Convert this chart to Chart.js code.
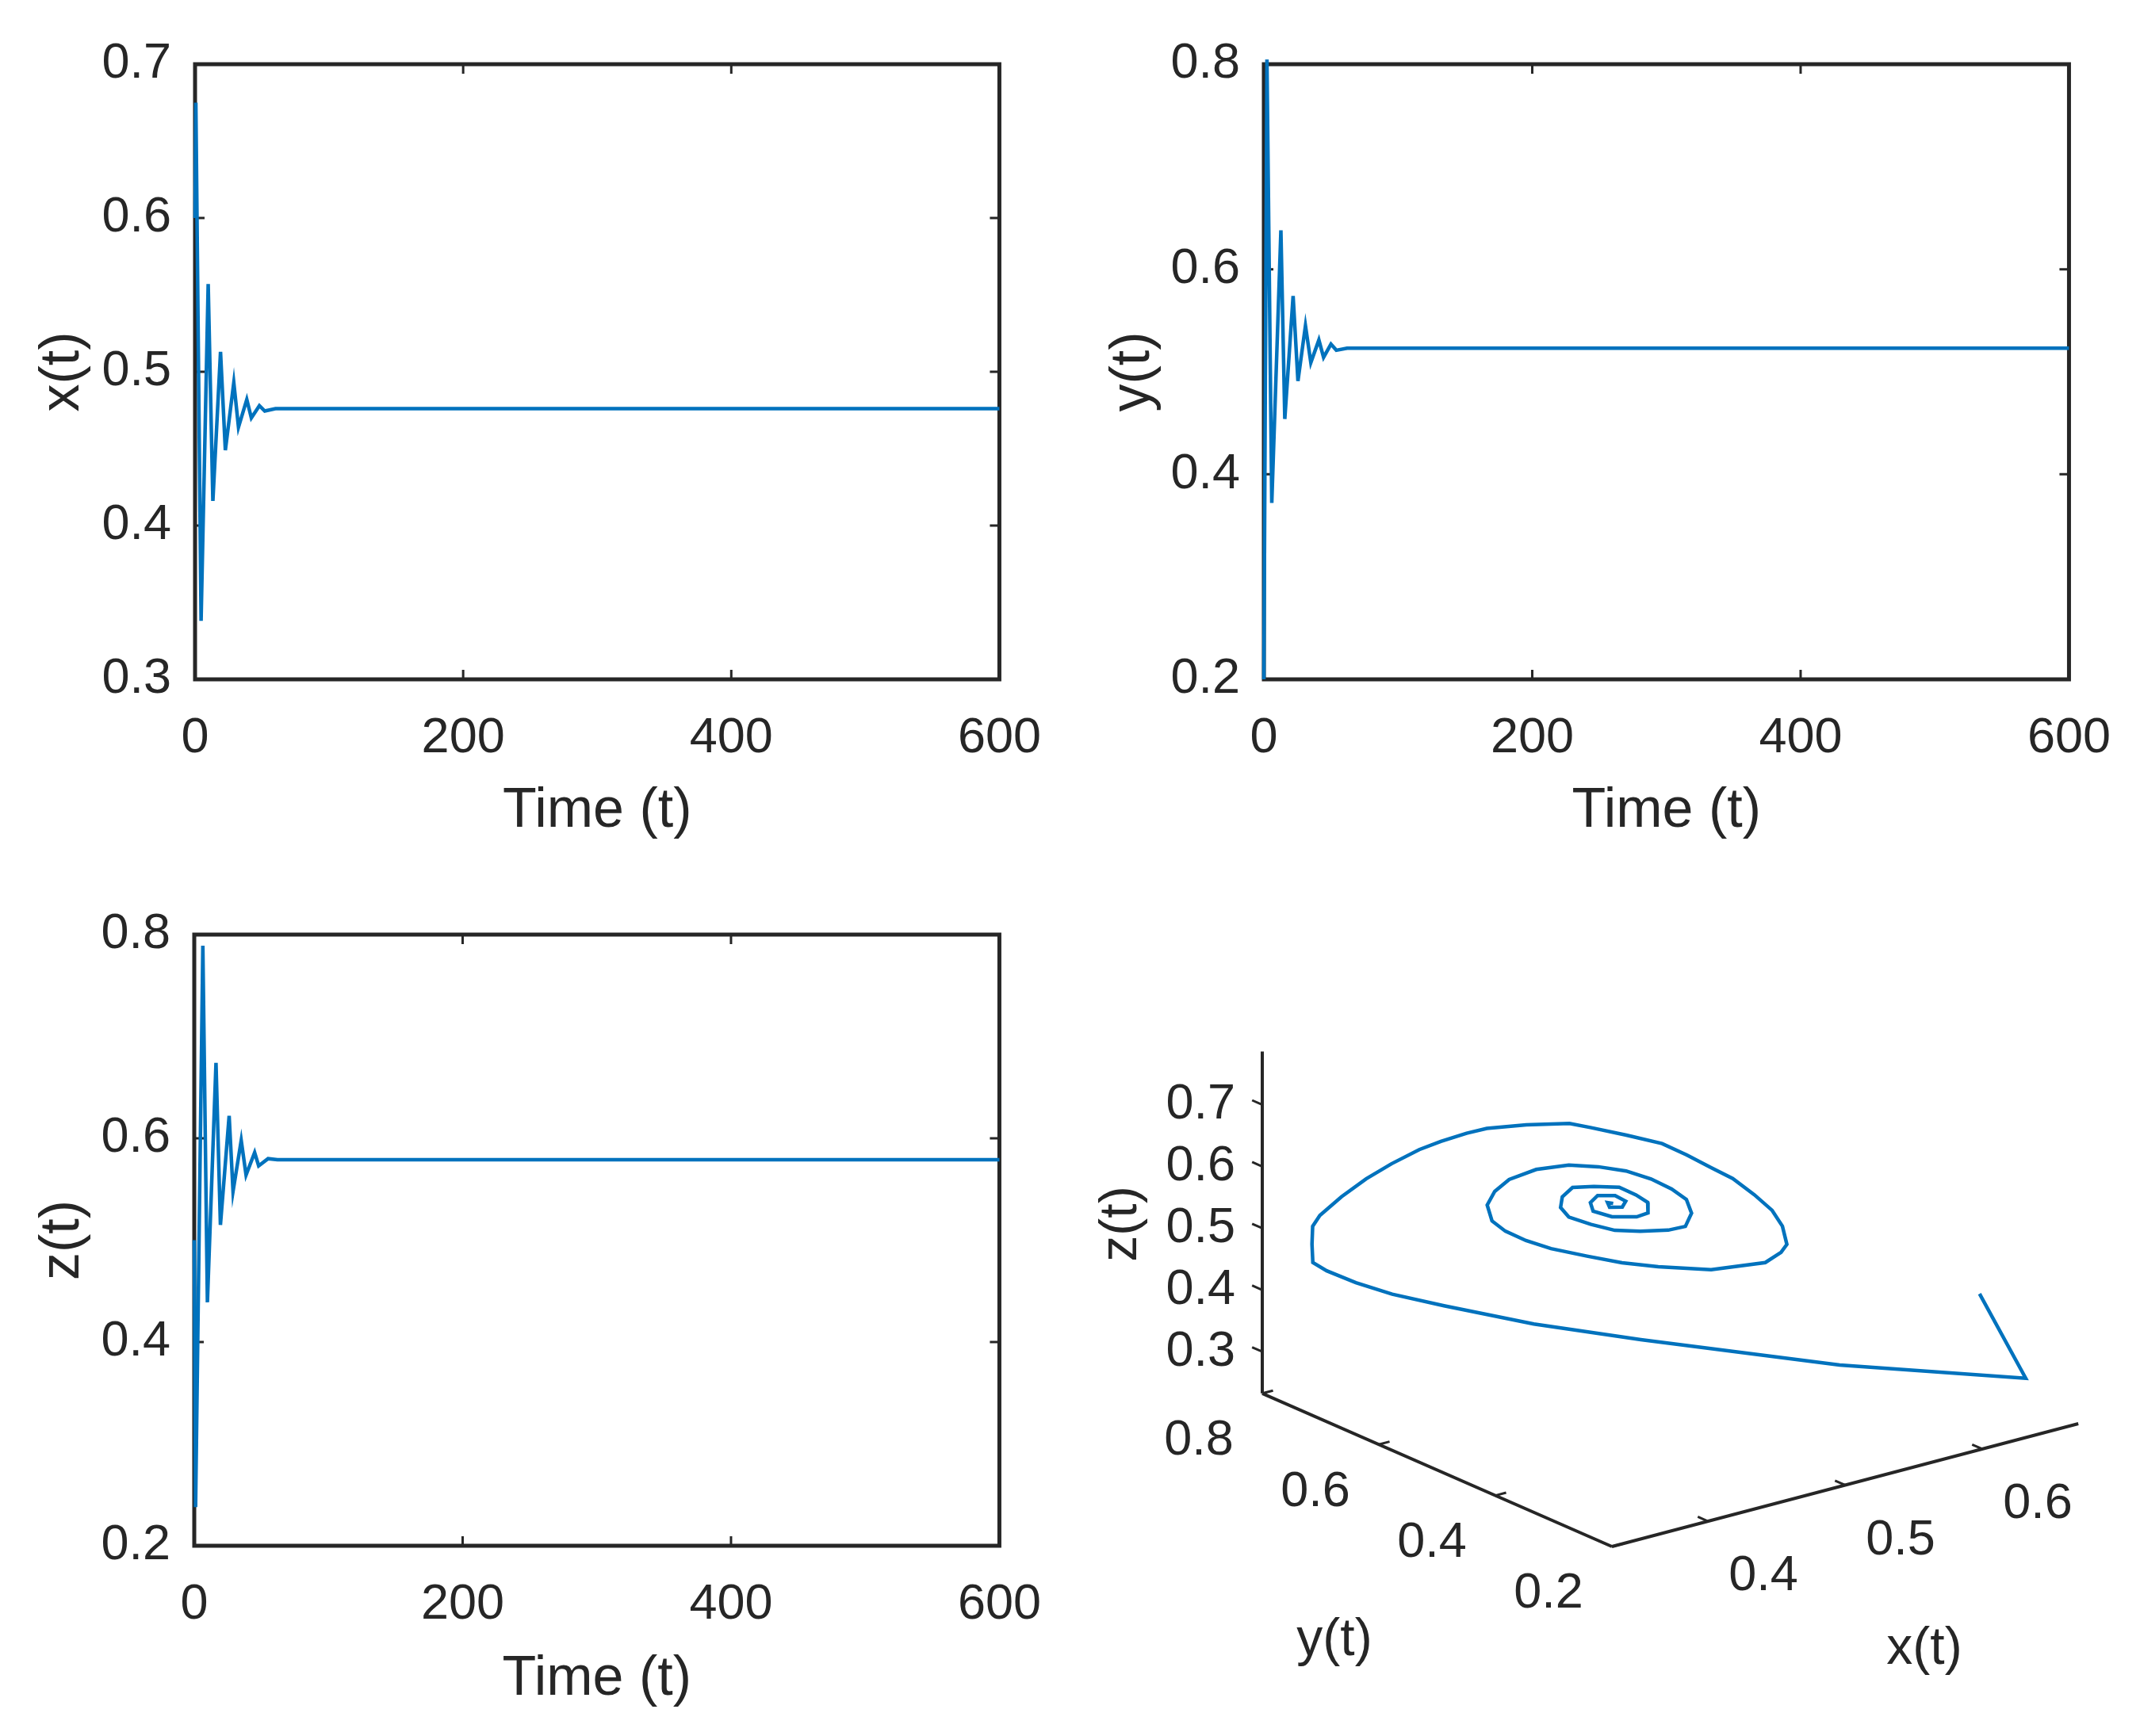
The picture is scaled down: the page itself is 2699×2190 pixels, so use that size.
<!DOCTYPE html>
<html lang="en">
<head>
<meta charset="UTF-8">
<title>Time series and phase portrait</title>
<script src="https://cdn.jsdelivr.net/npm/chart.js"></script>
<style>
  html, body { margin: 0; padding: 0; background: #fff; }
  body { width: 2699px; height: 2190px; position: relative; overflow: hidden; }
  canvas { position: absolute; }
</style>
</head>
<body>
<canvas id="xChart" width="1350" height="1095" style="left:0;top:0"></canvas>
<canvas id="yChart" width="1349" height="1095" style="left:1350px;top:0"></canvas>
<canvas id="zChart" width="1350" height="1095" style="left:0;top:1095px"></canvas>
<canvas id="phaseChart" width="1349" height="1095" style="left:1350px;top:1095px"></canvas>
<script>
// ---- data ----
const tX = [0, 0.6, 4.5, 9.8, 13.3, 19.0, 22.6, 28.9, 32.4, 38.6, 42.0, 48.0, 52.0, 60, 600];
const xVals = [0.600, 0.675, 0.338, 0.557, 0.416, 0.513, 0.449, 0.493, 0.464, 0.482, 0.470, 0.478, 0.4745, 0.476, 0.476];

const tY = [0, 2.3, 5.9, 12.7, 15.6, 21.8, 25.4, 31.0, 35.0, 41.0, 44.5, 50.0, 54.0, 62, 600];
const yVals = [0.200, 0.805, 0.372, 0.638, 0.454, 0.574, 0.491, 0.545, 0.509, 0.531, 0.514, 0.527, 0.521, 0.523, 0.523];

const tZ = [0, 1.0, 6.4, 9.8, 16.2, 19.5, 26.0, 28.9, 35.0, 38.6, 45.0, 48.0, 55, 62, 600];
const zVals = [0.500, 0.238, 0.789, 0.439, 0.674, 0.515, 0.622, 0.548, 0.598, 0.564, 0.586, 0.573, 0.580, 0.579, 0.579];

// phase portrait (x, y, z) along the trajectory
const phaseX = [0.598, 0.675, 0.581, 0.547, 0.504, 0.460, 0.420, 0.395, 0.377, 0.360, 0.352, 0.345, 0.337, 0.338,
  0.341, 0.342, 0.3435, 0.351, 0.354, 0.360, 0.362, 0.378, 0.401, 0.412, 0.434, 0.460, 0.478, 0.500, 0.520, 0.540,
  0.553, 0.5605, 0.568, 0.568, 0.565, 0.5425, 0.521, 0.503, 0.486, 0.464, 0.450, 0.435, 0.421, 0.409, 0.406, 0.408,
  0.415, 0.426, 0.439, 0.455, 0.469, 0.484, 0.499, 0.507, 0.511, 0.507, 0.495, 0.485, 0.472, 0.460, 0.454, 0.451,
  0.450, 0.457, 0.467, 0.475, 0.4835, 0.488, 0.484, 0.4745, 0.465, 0.463, 0.464, 0.4725, 0.476, 0.4735, 0.4685, 0.467, 0.469];
const phaseY = [0.200, 0.302, 0.400, 0.480, 0.560, 0.640, 0.700, 0.730, 0.750, 0.760, 0.765, 0.750, 0.730, 0.720,
  0.690, 0.650, 0.610, 0.580, 0.550, 0.520, 0.490, 0.460, 0.440, 0.430, 0.420, 0.420, 0.420, 0.430, 0.440, 0.450,
  0.450, 0.450, 0.460, 0.470, 0.490, 0.530, 0.570, 0.590, 0.610, 0.620, 0.630, 0.630, 0.620, 0.600, 0.580, 0.560,
  0.530, 0.500, 0.480, 0.470, 0.460, 0.460, 0.470, 0.480, 0.500, 0.520, 0.540, 0.560, 0.570, 0.580, 0.580, 0.570,
  0.550, 0.530, 0.510, 0.500, 0.500, 0.510, 0.520, 0.540, 0.550, 0.550, 0.540, 0.530, 0.520, 0.520, 0.530, 0.530, 0.525];
const phaseZ = [0.485, 0.261, 0.297, 0.303, 0.317, 0.335, 0.363, 0.384, 0.405, 0.430, 0.446, 0.486, 0.528, 0.549,
  0.590, 0.635, 0.675, 0.706, 0.730, 0.752, 0.771, 0.780, 0.777, 0.768, 0.747, 0.718, 0.689, 0.6515, 0.618, 0.576,
  0.543, 0.513, 0.475, 0.458, 0.435, 0.420, 0.421, 0.4295, 0.442, 0.463, 0.480, 0.504, 0.533, 0.574, 0.606, 0.6325,
  0.657, 0.670, 0.668, 0.656, 0.639, 0.614, 0.584, 0.553, 0.521, 0.509, 0.506, 0.505, 0.518, 0.533, 0.552, 0.575,
  0.599, 0.605, 0.606, 0.593, 0.576, 0.552, 0.544, 0.5415, 0.552, 0.567, 0.582, 0.581, 0.574, 0.566, 0.5645, 0.573, 0.5725];

// tick labels
const timeTicks = [0, 200, 400, 600];
const xTicks = [0.3, 0.4, 0.5, 0.6, 0.7];
const yTicks = [0.2, 0.4, 0.6, 0.8];
const zTicks = [0.2, 0.4, 0.6, 0.8];
const phaseXTicks = [0.4, 0.5, 0.6];
const phaseYTicks = [0.2, 0.4, 0.6, 0.8];
const phaseZTicks = [0.3, 0.4, 0.5, 0.6, 0.7];

// ---- styling ----
const LINE = '#0072BD';
const AXIS = '#262626';
Chart.defaults.font.family = "'Liberation Sans', Arial, Helvetica, sans-serif";
Chart.defaults.color = AXIS;

// box with inward ticks on all four sides, drawn under the data
const boxPlugin = {
  id: 'box',
  beforeDatasetsDraw(chart) {
    const {ctx, chartArea: a, scales} = chart;
    const len = 12;
    ctx.save();
    ctx.strokeStyle = AXIS;
    ctx.lineWidth = 3;
    ctx.beginPath();
    scales.x.ticks.forEach(t => {
      const px = scales.x.getPixelForValue(t.value);
      ctx.moveTo(px, a.bottom); ctx.lineTo(px, a.bottom - len);
      ctx.moveTo(px, a.top); ctx.lineTo(px, a.top + len);
    });
    scales.y.ticks.forEach(t => {
      const py = scales.y.getPixelForValue(t.value);
      ctx.moveTo(a.left, py); ctx.lineTo(a.left + len, py);
      ctx.moveTo(a.right, py); ctx.lineTo(a.right - len, py);
    });
    ctx.stroke();
    ctx.lineWidth = 5;
    ctx.strokeRect(a.left, a.top, a.right - a.left, a.bottom - a.top);
    ctx.restore();
  }
};

function timeChart(id, times, values, yMin, yMax, ticks, yTitle, area) {
  return new Chart(document.getElementById(id), {
    type: 'scatter',
    data: {
      datasets: [{
        data: times.map((t, i) => ({x: t, y: values[i]})),
        showLine: true,
        borderColor: LINE,
        borderWidth: 4.5,
        pointRadius: 0,
        tension: 0,
        clip: 6,
      }],
    },
    options: {
      responsive: false,
      animation: false,
      devicePixelRatio: 1,
      layout: { padding: { left: 0, top: area.top, right: area.right, bottom: 0 } },
      plugins: { legend: { display: false }, tooltip: { enabled: false } },
      scales: {
        x: {
          type: 'linear', min: 0, max: 600,
          afterFit: s => { s.height = area.xh; },
          afterBuildTicks: s => { s.ticks = timeTicks.map(v => ({value: v})); },
          ticks: { padding: 37, maxRotation: 0, font: { size: 63 }, callback: v => String(v) },
          grid: { display: false, drawTicks: false },
          border: { display: false },
          title: { display: true, text: 'Time (t)', font: { size: 70 }, padding: { top: 0, bottom: 29 } },
        },
        y: {
          type: 'linear', min: yMin, max: yMax,
          afterFit: s => { s.width = area.yw; },
          afterBuildTicks: s => { s.ticks = ticks.map(v => ({value: v})); },
          ticks: { padding: 30, font: { size: 63 }, callback: v => v.toFixed(1) },
          grid: { display: false, drawTicks: false },
          border: { display: false },
          title: { display: true, text: yTitle, font: { size: 70 }, padding: { top: 38, bottom: 0 } },
        },
      },
    },
    plugins: [boxPlugin],
  });
}

timeChart('xChart', tX, xVals, 0.3, 0.7, xTicks, 'x(t)', { top: 81, right: 80, yw: 246, xh: 238 });
timeChart('yChart', tY, yVals, 0.2, 0.8, yTicks, 'y(t)', { top: 81, right: 84, yw: 244, xh: 238 });
timeChart('zChart', tZ, zVals, 0.2, 0.8, zTicks, 'z(t)', { top: 84, right: 80, yw: 245, xh: 240 });

// ---- 3-D phase portrait, orthographic view ----
const X_LIM = [0.33, 0.67], Y_LIM = [0.2, 0.8], Z_LIM = [0.2325, 0.786];
// page pixel of the (xmin, ymin, zmin) corner and page pixels per unit along each axis
const ORIGIN = [2033, 1951];
const EX = [1730, -456], EY = [-735, -322], EZ = [0, -779];

function project(x, y, z) {
  const dx = x - X_LIM[0], dy = y - Y_LIM[0], dz = z - Z_LIM[0];
  return {
    x: ORIGIN[0] + dx * EX[0] + dy * EY[0] + dz * EZ[0],
    y: ORIGIN[1] + dx * EX[1] + dy * EY[1] + dz * EZ[1],
  };
}

function unit(v) { const l = Math.hypot(v[0], v[1]); return [v[0] / l, v[1] / l]; }

const axisLines = [
  [project(X_LIM[0], Y_LIM[1], Z_LIM[0]), project(X_LIM[0], Y_LIM[1], Z_LIM[1])],
  [project(X_LIM[0], Y_LIM[1], Z_LIM[0]), project(X_LIM[0], Y_LIM[0], Z_LIM[0])],
  [project(X_LIM[0], Y_LIM[0], Z_LIM[0]), project(X_LIM[1], Y_LIM[0], Z_LIM[0])],
];

const axes3dPlugin = {
  id: 'axes3d',
  afterDatasetsDraw(chart) {
    const {ctx, scales} = chart;
    const toCanvas = p => [scales.x.getPixelForValue(p.x), scales.y.getPixelForValue(p.y)];
    const ux = unit(EX), uy = unit(EY);
    const len = 14;
    ctx.save();
    ctx.strokeStyle = AXIS;
    ctx.fillStyle = AXIS;
    ctx.lineWidth = 3;
    ctx.font = "63px 'Liberation Sans', Arial, sans-serif";
    ctx.textBaseline = 'middle';

    function tick(p, dir) {
      const [cx, cy] = toCanvas(p);
      ctx.beginPath();
      ctx.moveTo(cx, cy);
      ctx.lineTo(cx + dir[0] * len, cy + dir[1] * len);
      ctx.stroke();
    }
    function label(p, dx, dy, text, align) {
      const [cx, cy] = toCanvas({x: p.x + dx, y: p.y + dy});
      ctx.textAlign = align;
      ctx.fillText(text, cx, cy);
    }

    phaseZTicks.forEach(v => {
      const p = project(X_LIM[0], Y_LIM[1], v);
      tick(p, uy);
      label(p, -34, 0, v.toFixed(1), 'right');
    });
    phaseYTicks.forEach(v => {
      const p = project(X_LIM[0], v, Z_LIM[0]);
      tick(p, ux);
      label(p, -80, 60, v.toFixed(1), 'center');
    });
    phaseXTicks.forEach(v => {
      const p = project(v, Y_LIM[0], Z_LIM[0]);
      tick(p, uy);
      label(p, 70, 70, v.toFixed(1), 'center');
    });

    ctx.font = "66px 'Liberation Sans', Arial, sans-serif";
    ctx.textAlign = 'center';
    let [cx, cy] = toCanvas({x: 2427, y: 2081});
    ctx.fillText('x(t)', cx, cy);
    [cx, cy] = toCanvas({x: 1683, y: 2070});
    ctx.fillText('y(t)', cx, cy);
    [cx, cy] = toCanvas({x: 1415, y: 1544});
    ctx.translate(cx, cy);
    ctx.rotate(-Math.PI / 2);
    ctx.fillText('z(t)', 0, 0);
    ctx.restore();
  }
};

new Chart(document.getElementById('phaseChart'), {
  type: 'scatter',
  data: {
    datasets: [
      ...axisLines.map(seg => ({
        data: seg,
        showLine: true,
        borderColor: AXIS,
        borderWidth: 4,
        pointRadius: 0,
      })),
      {
        data: phaseX.map((x, i) => project(x, phaseY[i], phaseZ[i])),
        showLine: true,
        borderColor: LINE,
        borderWidth: 4.5,
        pointRadius: 0,
        tension: 0,
      },
    ],
  },
  options: {
    responsive: false,
    animation: false,
    devicePixelRatio: 1,
    layout: { padding: 0 },
    plugins: { legend: { display: false }, tooltip: { enabled: false } },
    scales: {
      x: { type: 'linear', min: 1350, max: 2699, display: false },
      y: { type: 'linear', min: 1095, max: 2190, reverse: true, display: false },
    },
  },
  plugins: [axes3dPlugin],
});
</script>
</body>
</html>
